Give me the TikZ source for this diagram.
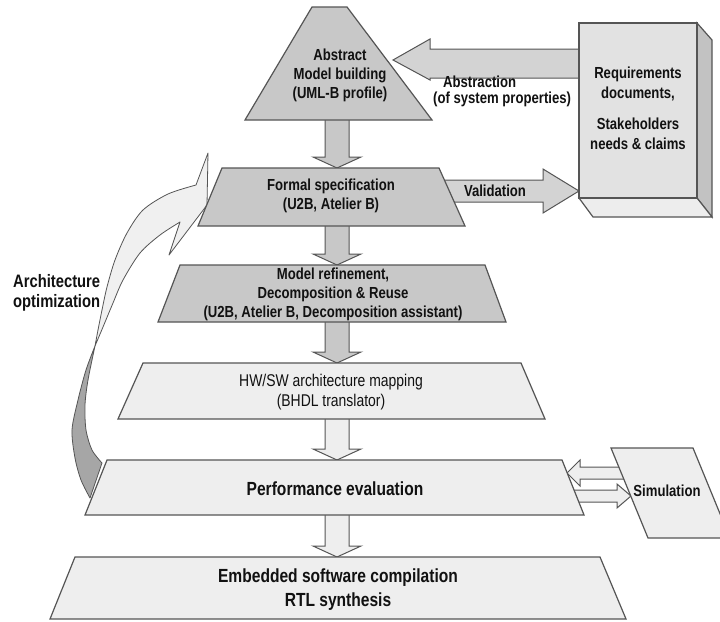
\documentclass[tikz,border=0pt]{standalone}
\usepackage{fontspec}
\setmainfont{Liberation Sans}[FakeStretch=0.82]
\usetikzlibrary{calc}

\definecolor{edgegray}{HTML}{555555}
\definecolor{stagedark}{HTML}{C8C8C8}
\definecolor{stagelight}{HTML}{EEEEEE}
\definecolor{bigarrow}{HTML}{D3D3D3}
\definecolor{reqfront}{HTML}{E2E2E2}
\definecolor{reqside}{HTML}{C2C2C2}
\definecolor{reqbottom}{HTML}{EDEDED}
\definecolor{ribbonlight}{HTML}{F0F0F0}
\definecolor{ribbondark}{HTML}{A6A6A6}
\definecolor{ink}{HTML}{111111}

% vertical block arrow from #1 (tail) to #2 (tip), filled with #3
\newcommand\blockdown[3]{%
  \filldraw[arrowline, fill=#3]
    ($(#1)+(-12,-4)$) -- ($(#2)+(-12,-11)$) -- ($(#2)+(-24,-11)$) -- (#2)
    -- ($(#2)+(24,-11)$) -- ($(#2)+(12,-11)$) -- ($(#1)+(12,-4)$) -- cycle;}

% horizontal block arrow: #1 tail, #2 tip, #3 shaft half width,
% #4 head half width, #5 signed head length, #6 fill
\newcommand\blockh[6]{%
  \filldraw[arrowline, fill=#6]
    ($(#1)+(0,-#3)$) -- ($(#2)+(#5,-#3)$) -- ($(#2)+(#5,-#4)$) -- (#2)
    -- ($(#2)+(#5,#4)$) -- ($(#2)+(#5,#3)$) -- ($(#1)+(0,#3)$) -- cycle;}

\begin{document}
\begin{tikzpicture}[x=1pt,y=-1pt,
  shapeline/.style={draw=edgegray, line width=1.2pt, line join=miter},
  arrowline/.style={draw=edgegray, line width=1pt, line join=miter},
  ribbonline/.style={draw=edgegray, line width=0.8pt, line join=round},
  lbl/.style={inner sep=0pt, align=center, text=ink},
  boldlbl/.style={lbl, font=\bfseries\fontsize{16}{19}\selectfont},
]
\useasboundingbox (0,0) rectangle (720,621);
\clip (0,0) rectangle (720,621);
\fill[white] (0,0) rectangle (720,621);

% anchor points on the stages
\coordinate (abs-s) at (337,120);
\coordinate (fs-n) at (337,168);
\coordinate (fs-s) at (337,226);
\coordinate (mr-n) at (337,265);
\coordinate (mr-s) at (337,322);
\coordinate (hw-n) at (337,363);
\coordinate (hw-s) at (337,419);
\coordinate (pe-n) at (337,460);
\coordinate (pe-s) at (337,515);
\coordinate (em-n) at (337,557);
\coordinate (req-w) at (581,64);
\coordinate (abs-e) at (393,60);
\coordinate (fs-e) at (440,191);
\coordinate (req-w2) at (579,191);
\coordinate (sim-w1) at (624,473);
\coordinate (pe-e1) at (567,473);
\coordinate (pe-e2) at (572,496);
\coordinate (sim-w2) at (631,496);

% feedback ribbon (architecture optimization)
\filldraw[ribbonline, fill=ribbonlight]
  plot[smooth] coordinates {(95,346) (98,330) (102,310) (107,287) (115,260) (127,233) (143,210) (168,194) (196,185)}
  -- (208,153) -- (207,205) -- (169,255) -- (180,222)
  -- plot[smooth] coordinates {(180,222) (160,235) (140,253) (123,280) (113,303) (103,327) (95,346)}
  -- cycle;
\filldraw[ribbonline, fill=ribbondark]
  plot[smooth] coordinates {(95,346) (86,370) (78,400) (72,430) (75,458) (81,480) (90,498)}
  -- (102,463)
  -- plot[smooth] coordinates {(102,463) (92,450) (86,430) (85,405) (88,380) (95,346)}
  -- cycle;

% abstraction and validation arrows
\filldraw[arrowline, fill=bigarrow]
  ($(req-w)+(0,-15)$) -- ($(abs-e)+(37,-11)$) -- ($(abs-e)+(37,-21)$) -- (abs-e)
  -- ($(abs-e)+(37,20)$) -- ($(abs-e)+(37,18)$) -- ($(req-w)+(0,14)$) -- cycle;
\filldraw[arrowline, fill=bigarrow]
  ($(fs-e)+(0,-11)$) -- ($(req-w2)+(-36,-11)$) -- ($(req-w2)+(-36,-22)$) -- (req-w2)
  -- ($(req-w2)+(-36,22)$) -- ($(req-w2)+(-36,11)$) -- ($(fs-e)+(0,11)$) -- cycle;

% simulation exchange
\blockh{sim-w1}{pe-e1}{6}{13}{13}{stagelight}
\blockh{pe-e2}{sim-w2}{6}{12}{-14}{stagelight}

% flow between stages
\blockdown{abs-s}{fs-n}{stagedark}
\blockdown{fs-s}{mr-n}{stagedark}
\blockdown{mr-s}{hw-n}{stagedark}
\blockdown{hw-s}{pe-n}{stagelight}
\blockdown{pe-s}{em-n}{stagelight}

% stages
\filldraw[shapeline, fill=stagedark] (312,7) -- (347,7) -- (432,120) -- (245,120) -- cycle;
\filldraw[shapeline, fill=stagedark] (222,168) -- (439,168) -- (465,226) -- (198,226) -- cycle;
\filldraw[shapeline, fill=stagedark] (180,265) -- (485,265) -- (506,322) -- (158,322) -- cycle;
\filldraw[shapeline, fill=stagelight] (143,363) -- (521,363) -- (545,419) -- (118,419) -- cycle;
\filldraw[shapeline, fill=stagelight] (107,460) -- (562,460) -- (584,515) -- (85,515) -- cycle;
\filldraw[shapeline, fill=stagelight] (75,557) -- (600,557) -- (626,619) -- (50,619) -- cycle;
\filldraw[shapeline, fill=stagelight] (611,448) -- (693,448) -- (730,538) -- (648,538) -- cycle;

% requirements block
\filldraw[shapeline, fill=reqside] (697,23) -- (712,40) -- (712,217) -- (697,198) -- cycle;
\filldraw[shapeline, fill=reqbottom] (579,198) -- (697,198) -- (712,217) -- (593,217) -- cycle;
\filldraw[shapeline, fill=reqfront] (579,23) rectangle (697,198);

% texts
\node[boldlbl] (absT) at (340,75) {Abstract\\Model building\\(UML-B profile)};
\node[boldlbl] (fsT) at (331,196) {Formal specification\\(U2B, Atelier B)};
\node[boldlbl] (mrT) at (333,294) {Model refinement,\\Decomposition \& Reuse\\(U2B, Atelier B, Decomposition assistant)};
\node[lbl, font=\fontsize{17}{20}\selectfont] (hwT) at (331,392) {HW/SW architecture mapping\\(BHDL translator)};
\node[lbl, font=\bfseries\fontsize{19}{24}\selectfont] (peT) at (335,489) {Performance evaluation};
\node[lbl, font=\bfseries\fontsize{19}{24}\selectfont] (emT) at (338,590) {Embedded software compilation\\RTL synthesis};
\node[boldlbl, font=\bfseries\fontsize{16}{20}\selectfont] (reqT) at (638,108) {Requirements\\documents,\\[11pt]Stakeholders\\needs \& claims};
\node[boldlbl] (simT) at (667,491) {Simulation};
\node[boldlbl] (valT) at (495,191) {Validation};
\node[boldlbl, anchor=west] (abs1T) at (443,82) {Abstraction};
\node[boldlbl, anchor=west] (abs2T) at (433,99) {(of system properties)};
\node[lbl, align=left, anchor=west, font=\bfseries\fontsize{18}{20}\selectfont] (archT) at (13,293) {Architecture\\optimization};
\end{tikzpicture}
\end{document}
